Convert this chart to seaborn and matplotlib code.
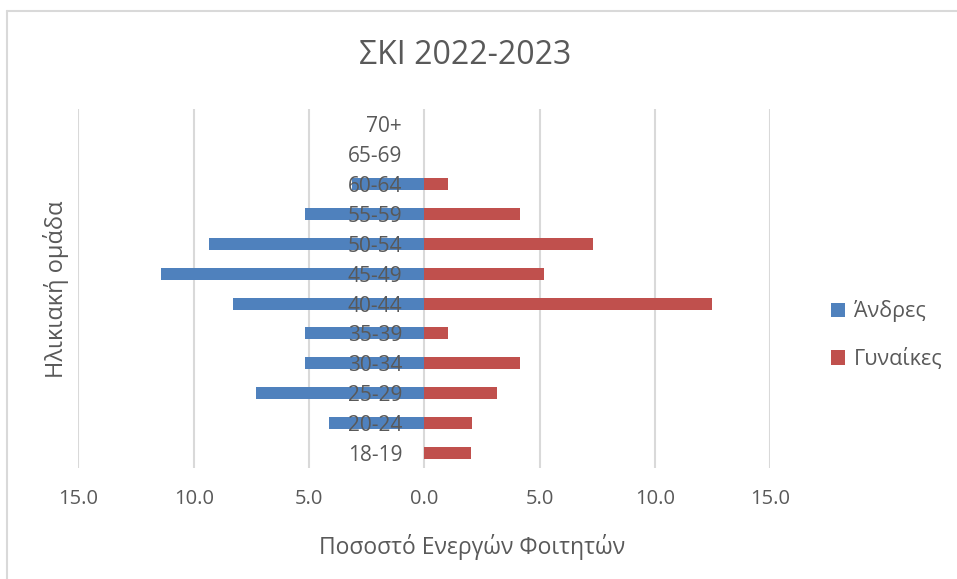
import pandas as pd
import matplotlib.pyplot as plt
import seaborn as sns
from matplotlib.lines import Line2D
from matplotlib.ticker import FuncFormatter

# age groups, top to bottom as in the chart
age_groups = ["70+", "65-69", "60-64", "55-59", "50-54", "45-49",
              "40-44", "35-39", "30-34", "25-29", "20-24", "18-19"]

# percent of active students per group
men = [0.0, 0.0, 3.14, 5.19, 9.36, 11.44, 8.31, 5.19, 5.19, 7.29, 4.15, 0.0]
women = [0.0, 0.0, 1.03, 4.15, 7.3, 5.2, 12.48, 1.03, 4.15, 3.13, 2.08, 2.03]

series_names = ["Άνδρες", "Γυναίκες"]
colors = {"Άνδρες": "#4F81BD", "Γυναίκες": "#C0504D"}

# long table, men go to the left side
df = pd.DataFrame({
    "group": age_groups * 2,
    "value": [-v for v in men] + women,
    "sex": [series_names[0]] * len(age_groups) + [series_names[1]] * len(age_groups),
})

sns.set_theme(style="white")
plt.rcParams["font.family"] = ["Open Sans", "DejaVu Sans"]
txt = "#595959"

fig = plt.figure(figsize=(9.57, 5.79), dpi=100)
ax = fig.add_axes([0.082, 0.192, 0.723, 0.619])

sns.barplot(data=df, x="value", y="group", hue="sex", order=age_groups,
            hue_order=series_names, palette=colors, dodge=False, saturation=1,
            orient="h", width=0.4, linewidth=0, ax=ax, zorder=1)

ax.set_xlim(-15, 15)
ax.set_xticks([-15, -10, -5, 0, 5, 10, 15])
ax.xaxis.set_major_formatter(FuncFormatter(lambda x, p: f"{abs(x):.1f}"))

# vertical gridlines under the bars
ax.grid(False)
ylim = (len(age_groups) - 0.5, -0.5)
ax.vlines(ax.get_xticks(), *ylim, color="#D9D9D9", lw=1.5, zorder=0)
ax.set_ylim(*ylim)

# group labels sit on the zero line, above the bars
ax.set_axisbelow(False)
ax.spines["left"].set_position(("data", 0))
for s in ax.spines.values():
    s.set_visible(False)
ax.tick_params(axis="y", length=0, pad=16, labelsize=15, labelcolor=txt)
ax.tick_params(axis="x", length=0, pad=15, labelsize=14.5, labelcolor=txt)

ax.set_ylabel("")
ax.set_xlabel("Ποσοστό Ενεργών Φοιτητών", fontsize=16.5, color=txt)
ax.xaxis.set_label_coords(0.569, -0.185)
fig.text(0.058, 0.5, "Ηλικιακή ομάδα", rotation=90, fontsize=17, color=txt,
         ha="center", va="center")
fig.text(0.486, 0.905, "ΣΚΙ 2022-2023", fontsize=23, color=txt,
         ha="center", va="center")

sns.move_legend(ax, "center left", bbox_to_anchor=(1.06, 0.37), title=None,
                frameon=False, fontsize=15.5, handlelength=0.65, handleheight=0.65,
                handletextpad=0.4, labelspacing=1.2, labelcolor=txt)

# chart border (Excel style)
fig.add_artist(Line2D([7.5 / 957, 7.5 / 957], [0, 1 - 11 / 579], color="#D9D9D9", lw=1.5))
fig.add_artist(Line2D([7.5 / 957, 1], [1 - 11 / 579, 1 - 11 / 579], color="#D9D9D9", lw=1.5))

fig.savefig("out.png", dpi=100)
